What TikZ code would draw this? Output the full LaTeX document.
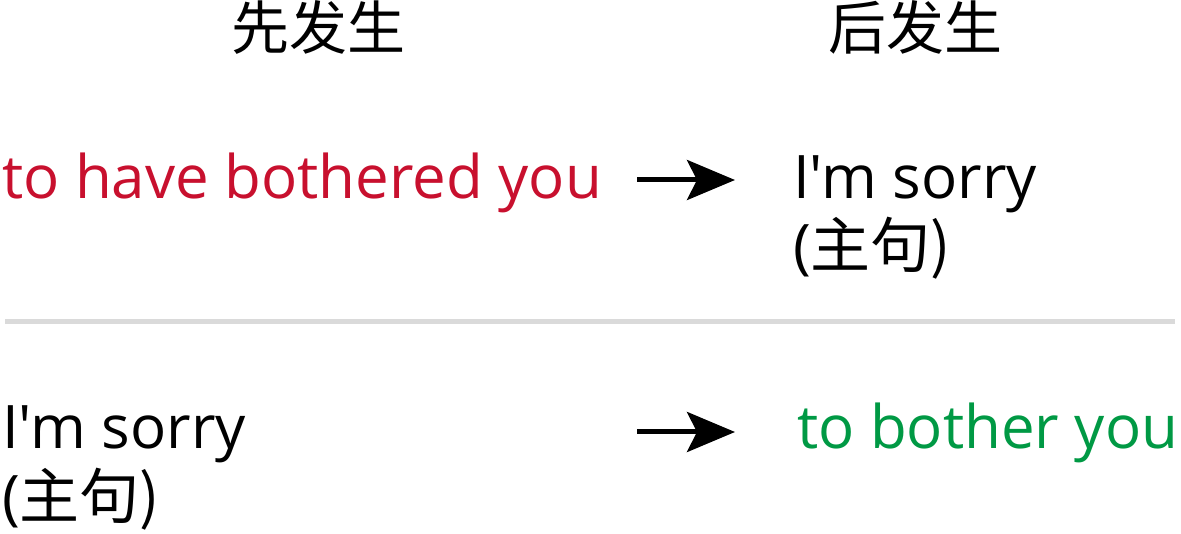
\documentclass[tikz,border=0pt]{standalone}
\usepackage{fontspec}
\setmainfont{Open Sans}
\newfontfamily\latin{Open Sans}
\newfontfamily\cjk{Noto Sans CJK SC}
\usetikzlibrary{arrows.meta}
\definecolor{earlyred}{RGB}{200,16,46}
\definecolor{latergreen}{RGB}{0,153,68}
\definecolor{rulegray}{RGB}{218,218,218}
\tikzset{
  big text/.style={
    inner sep=0pt, anchor=base west,
    font=\latin\fontsize{60}{60}\selectfont
  },
  head text/.style={
    inner sep=0pt, anchor=base,
    font=\cjk\fontsize{58}{58}\selectfont
  },
  order arrow/.style={
    -{Stealth[length=48pt, width=40pt, inset=10pt]}, % heavy arrow tip
    line width=5pt
  }
}
\newcommand{\imsorry}{I\char39 m sorry}

\begin{document}
\begin{tikzpicture}[x=1pt, y=-1pt]
    \useasboundingbox (0,0) rectangle (1181,534);

    % column heads
    \node[head text] (first) at (318,50) {先发生};
    \node[head text] (then) at (915,50) {后发生};

    % upper row
    \node[big text, text=earlyred] (perfect) at (2,199) {to have bothered you};
    \node[big text] (sorryA) at (793,199) {\imsorry};
    \node[big text] (mainA) at (793,268) {(\cjk 主句\/)};
    \coordinate (arrA1) at (637,180);
    \coordinate (arrA2) at (735,180);
    \draw[order arrow] (arrA1) -- (arrA2);

    % separator
    \draw[rulegray, line width=5pt] (5,322) -- (1175,322);

    % lower row
    \node[big text] (sorryB) at (2,449) {\imsorry};
    \node[big text] (mainB) at (2,518) {(\cjk 主句\/)};
    \node[big text, text=latergreen] (simple) at (797,449) {to bother you};
    \coordinate (arrB1) at (637,432);
    \coordinate (arrB2) at (735,432);
    \draw[order arrow] (arrB1) -- (arrB2);
\end{tikzpicture}
\end{document}
